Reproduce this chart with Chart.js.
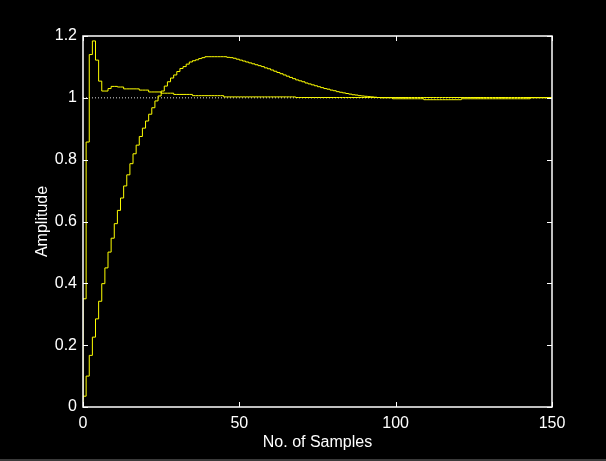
<!DOCTYPE html>
<html>
<head>
<meta charset="utf-8">
<script src="https://cdn.jsdelivr.net/npm/chart.js@4/dist/chart.umd.min.js"></script>
<style>
  html, body { margin: 0; padding: 0; background: #000; }
  #wrap { width: 606px; height: 459px; border-bottom: 2px solid #3a3a3a; }
</style>
</head>
<body>
<div id="wrap"><canvas id="step"></canvas></div>
<script>
// step responses, one value per sample (sample 0..150)
var fast = [
  0.000, 0.350, 0.857, 1.140, 1.184, 1.122, 1.054, 1.022, 1.022, 1.030,
  1.037, 1.037, 1.035, 1.035, 1.029, 1.029, 1.029, 1.029, 1.029, 1.025,
  1.025, 1.025, 1.019, 1.019, 1.019, 1.019, 1.015, 1.015, 1.015, 1.015,
  1.011, 1.011, 1.011, 1.011, 1.011, 1.011, 1.007, 1.007, 1.007, 1.007,
  1.007, 1.007, 1.007, 1.007, 1.007, 1.007, 1.003, 1.003, 1.003, 1.003,
  1.003, 1.003, 1.003, 1.003, 1.003, 1.003, 1.003, 1.003, 1.003, 1.003,
  1.003, 1.003, 1.003, 1.003, 1.003, 1.003, 1.003, 1.003, 1.003, 1.001,
  1.001, 1.001, 1.001, 1.001, 1.001, 1.001, 1.001, 1.001, 1.001, 1.001,
  1.001, 1.001, 1.001, 1.001, 1.001, 1.001, 1.001, 1.001, 1.001, 1.001,
  1.001, 1.001, 1.001, 1.001, 1.001, 1.001, 1.001, 1.001, 1.001, 1.001,
  1.001, 1.001, 1.001, 1.001, 1.001, 1.001, 1.001, 1.001, 1.001, 1.001,
  1.001, 1.001, 1.001, 1.001, 1.001, 1.001, 1.001, 1.001, 1.001, 1.001,
  1.001, 1.001, 1.001, 1.001, 1.001, 1.001, 1.001, 1.001, 1.001, 1.001,
  1.001, 1.001, 1.001, 1.001, 1.001, 1.001, 1.001, 1.001, 1.001, 1.001,
  1.001, 1.001, 1.001, 1.001, 1.001, 1.001, 1.001, 1.001, 1.001, 1.001,
  1.001
];
var slow = [
  0.025, 0.035, 0.100, 0.167, 0.226, 0.285, 0.342, 0.399, 0.450, 0.501,
  0.546, 0.593, 0.636, 0.676, 0.715, 0.751, 0.787, 0.819, 0.847, 0.875,
  0.902, 0.925, 0.947, 0.968, 0.990, 1.006, 1.022, 1.038, 1.052, 1.064,
  1.074, 1.085, 1.095, 1.101, 1.109, 1.116, 1.120, 1.123, 1.127, 1.130,
  1.133, 1.133, 1.133, 1.133, 1.133, 1.133, 1.133, 1.131, 1.130, 1.128,
  1.125, 1.122, 1.119, 1.116, 1.113, 1.110, 1.107, 1.104, 1.101, 1.097,
  1.094, 1.090, 1.086, 1.082, 1.078, 1.074, 1.070, 1.066, 1.062, 1.058,
  1.055, 1.052, 1.048, 1.045, 1.042, 1.039, 1.036, 1.033, 1.030, 1.028,
  1.025, 1.023, 1.020, 1.018, 1.016, 1.014, 1.012, 1.010, 1.009, 1.007,
  1.006, 1.005, 1.004, 1.003, 1.002, 1.001, 1.000, 1.000, 1.000, 1.000,
  0.997, 0.997, 0.997, 0.997, 0.997, 0.997, 0.997, 0.997, 0.997, 0.997,
  0.994, 0.994, 0.994, 0.994, 0.994, 0.994, 0.994, 0.994, 0.994, 0.994,
  0.994, 0.994, 0.997, 0.997, 0.997, 0.997, 0.997, 0.997, 0.997, 0.997,
  0.997, 0.997, 0.997, 0.997, 0.997, 0.997, 0.997, 0.997, 0.997, 0.997,
  0.997, 0.997, 0.997, 0.997, 1.000, 1.000, 1.000, 1.000, 1.000, 1.000,
  1.000
];
var refLine = [1, 1];         // dotted reference at amplitude 1
var refSamples = [0, 150];
var xTicks = [0, 50, 100, 150];
var yTicks = [0, 0.2, 0.4, 0.6, 0.8, 1, 1.2];

function toPoints(arr) {
  return arr.map(function (v, i) { return { x: i, y: v }; });
}

// white box round the plot with inward tick marks
var boxPlugin = {
  id: 'box',
  afterDraw: function (chart) {
    var ctx = chart.ctx, a = chart.chartArea;
    var xs = chart.scales.x, ys = chart.scales.y;
    var tl = 5;
    ctx.save();
    ctx.strokeStyle = '#ffffff';
    ctx.lineWidth = 1.5;
    ctx.strokeRect(a.left, a.top, a.right - a.left, a.bottom - a.top);
    ctx.lineWidth = 1;
    ctx.beginPath();
    xTicks.forEach(function (t) {
      var px = Math.round(xs.getPixelForValue(t)) + 0.5;
      ctx.moveTo(px, a.bottom); ctx.lineTo(px, a.bottom - tl);
      ctx.moveTo(px, a.top); ctx.lineTo(px, a.top + tl);
    });
    yTicks.forEach(function (t) {
      var py = Math.round(ys.getPixelForValue(t)) + 0.5;
      ctx.moveTo(a.left, py); ctx.lineTo(a.left + tl, py);
      ctx.moveTo(a.right, py); ctx.lineTo(a.right - tl, py);
    });
    ctx.stroke();
    ctx.restore();
  }
};

var font = { family: "'Liberation Sans', Arial, sans-serif", size: 16 };

var ctx = document.getElementById('step').getContext('2d');
var chart = new Chart(ctx, {
  type: 'line',
  data: {
    datasets: [
      {
        label: 'fast',
        data: toPoints(fast),
        borderColor: '#ffff00',
        borderWidth: 1,
        stepped: 'after',
        pointRadius: 0,
        fill: false,
        order: 0
      },
      {
        label: 'slow',
        data: toPoints(slow),
        borderColor: '#ffff00',
        borderWidth: 1,
        stepped: 'after',
        pointRadius: 0,
        fill: false,
        order: 0
      },
      {
        label: 'ref',
        data: refSamples.map(function (s, i) { return { x: s, y: refLine[i] }; }),
        borderColor: '#e0e0e0',
        borderWidth: 1,
        borderDash: [1, 2],
        pointRadius: 0,
        fill: false,
        order: 1
      }
    ]
  },
  options: {
    responsive: true,
    maintainAspectRatio: false,
    animation: false,
    layout: {
      padding: { left: 0, right: 54, top: 36, bottom: 0 }
    },
    plugins: {
      legend: { display: false },
      tooltip: { enabled: false }
    },
    scales: {
      x: {
        type: 'linear',
        min: 0,
        max: 150,
        afterBuildTicks: function (scale) {
          scale.ticks = xTicks.map(function (v) { return { value: v }; });
        },
        afterFit: function (scale) { scale.height = 52; },
        grid: { display: false, drawTicks: false },
        border: { display: false },
        ticks: { color: '#ffffff', font: font, padding: 7, maxRotation: 0 },
        title: {
          display: true,
          text: 'No. of Samples',
          color: '#ffffff',
          font: font,
          padding: { top: 0, bottom: 7 }
        }
      },
      y: {
        min: 0,
        max: 1.2,
        afterBuildTicks: function (scale) {
          scale.ticks = yTicks.map(function (v) { return { value: v }; });
        },
        afterFit: function (scale) { scale.width = 83; },
        grid: { display: false, drawTicks: false },
        border: { display: false },
        ticks: {
          color: '#ffffff',
          font: font,
          padding: 6,
          callback: function (v) { return String(Math.round(v * 10) / 10); }
        },
        title: {
          display: true,
          text: 'Amplitude',
          color: '#ffffff',
          font: font,
          padding: { top: 33, bottom: 0 }
        }
      }
    }
  },
  plugins: [boxPlugin]
});
</script>
</body>
</html>
